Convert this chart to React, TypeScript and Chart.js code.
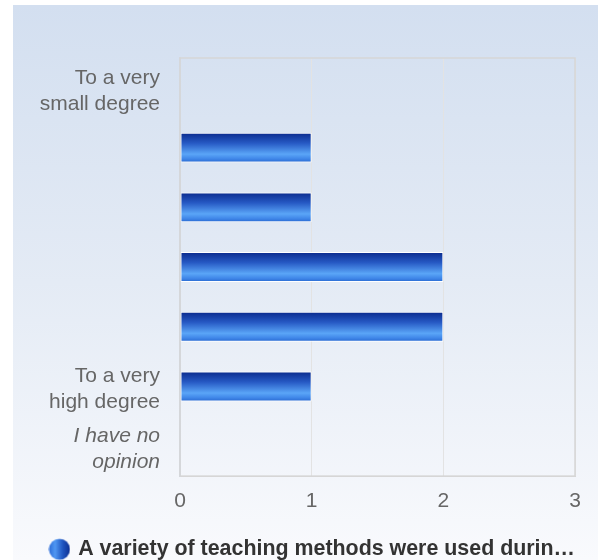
import React, { useEffect, useRef } from "react";
import { Chart, registerables } from "chart.js";

Chart.register(...registerables);

const categories: (string | string[])[] = [
  ["To a very", "small degree"],
  "",
  "",
  "",
  "",
  ["To a very", "high degree"],
  ["I have no", "opinion"],
];
const values: number[] = [0, 1, 1, 2, 2, 1, 0];
const xTicks: number[] = [0, 1, 2, 3];
const seriesLabel = "A variety of teaching methods were used durin…";

const FONT = "'Liberation Sans', Arial, Helvetica, sans-serif";

function makeSphere(): HTMLCanvasElement {
  const c = document.createElement("canvas");
  c.width = 22;
  c.height = 22;
  const g = c.getContext("2d")!;
  const grad = g.createLinearGradient(0, 0, 22, 0);
  grad.addColorStop(0, "#2a6ad6");
  grad.addColorStop(0.3, "#4f97f2");
  grad.addColorStop(0.65, "#1f55c0");
  grad.addColorStop(1, "#0b2c8e");
  g.fillStyle = grad;
  g.beginPath();
  g.arc(11, 11, 10.5, 0, Math.PI * 2);
  g.fill();
  return c;
}

const borderPlugin = {
  id: "plotBorder",
  afterDraw(chart: any) {
    const { ctx, chartArea } = chart;
    ctx.save();
    ctx.strokeStyle = "#d6d6d6";
    ctx.lineWidth = 1.5;
    ctx.strokeRect(chartArea.left, chartArea.top, chartArea.right - chartArea.left, chartArea.bottom - chartArea.top);
    ctx.restore();
  },
};

export default function App() {
  const ref = useRef<HTMLCanvasElement | null>(null);

  useEffect(() => {
    if (!ref.current) return;
    const sphere = makeSphere();
    const chart = new Chart(ref.current, {
      type: "bar",
      data: {
        labels: categories,
        datasets: [
          {
            label: seriesLabel,
            data: values,
            borderColor: "#ffffff",
            borderWidth: 1,
            borderSkipped: false,
            barPercentage: 0.5,
            categoryPercentage: 1,
            backgroundColor: (c: any) => {
              const ch = c.chart;
              const y = ch.scales?.y;
              if (!y || c.dataIndex === undefined || !ch.chartArea) return "#2a6ad6";
              const center = y.getPixelForValue(c.dataIndex);
              const half = (y.height / categories.length) * 0.25;
              const g = ch.ctx.createLinearGradient(0, center - half, 0, center + half);
              g.addColorStop(0, "#0a2a8c");
              g.addColorStop(0.35, "#2659c4");
              g.addColorStop(0.72, "#5aa5f7");
              g.addColorStop(0.88, "#3f86e8");
              g.addColorStop(1, "#2868d0");
              return g;
            },
          },
        ],
      },
      options: {
        indexAxis: "y",
        responsive: false,
        animation: false,
        layout: { padding: { top: 58, right: 23, left: 0, bottom: -10 } },
        scales: {
          x: {
            min: 0,
            max: 3,
            afterBuildTicks: (s: any) => {
              s.ticks = xTicks.map((v) => ({ value: v }));
            },
            afterFit: (s: any) => {
              s.height = 62.5;
            },
            grid: { color: "#e3e3e3", drawTicks: false, lineWidth: 1 },
            border: { display: true, color: "#d6d6d6" },
            ticks: { color: "#666666", padding: 13, font: { family: FONT, size: 21 } },
          },
          y: {
            afterFit: (s: any) => {
              s.width = 180;
            },
            grid: { display: false, drawTicks: false },
            border: { display: true, color: "#d0d8e6", width: 2 },
            ticks: {
              color: "#666666",
              padding: 20,
              labelOffset: 3,
              autoSkip: false,
              font: (c: any) => ({
                family: FONT,
                size: 21,
                lineHeight: 1.24,
                style: c.index === 6 ? "italic" : "normal",
              }),
            },
          },
        },
        plugins: {
          legend: {
            position: "bottom",
            align: "end",
            labels: {
              usePointStyle: true,
              pointStyleWidth: 16,
              color: "#333333",
              padding: 0,
              font: { family: FONT, size: 21.4, weight: "bold" },
              generateLabels: (ch: any) =>
                ch.data.datasets.map((d: any, i: number) => ({
                  text: d.label,
                  pointStyle: sphere,
                  fillStyle: "#2a6ad6",
                  strokeStyle: "transparent",
                  lineWidth: 0,
                  hidden: false,
                  datasetIndex: i,
                  fontColor: "#333333",
                })),
            },
          },
          tooltip: { enabled: false },
        },
      },
      plugins: [borderPlugin],
    } as any);
    return () => chart.destroy();
  }, []);

  return (
    <div style={{ position: "absolute", left: 0, top: 0, width: 598, height: 560, background: "#ffffff" }}>
      <div
        style={{
          position: "absolute",
          left: 13,
          top: 5,
          right: 0,
          bottom: 0,
          background: "linear-gradient(to bottom, #d3dff0 0%, #e4ebf5 50%, #f9fafd 100%)",
        }}
      />
      <canvas ref={ref} width={598} height={560} style={{ position: "absolute", left: 0, top: 0 }} />
    </div>
  );
}
